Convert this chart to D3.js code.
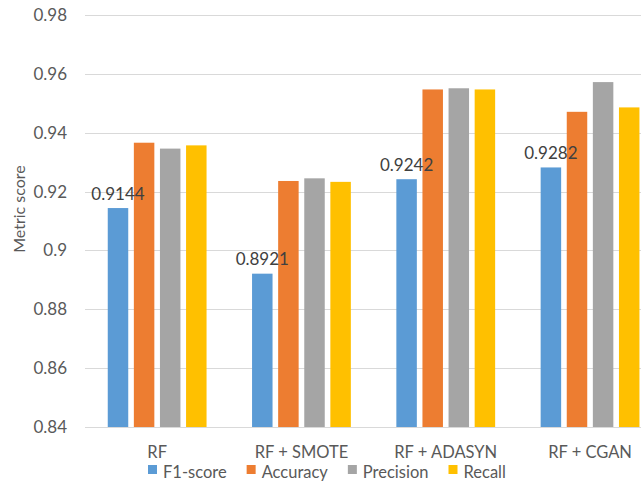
<!DOCTYPE html>
<html>
<head>
<meta charset="utf-8">
<script src="https://cdn.jsdelivr.net/npm/d3@7"></script>
<style>
  html, body { margin: 0; padding: 0; background: #fff; }
  svg { display: block; font-family: Lato, "Open Sans", sans-serif; }
</style>
</head>
<body>
<svg id="chart" width="641" height="494"></svg>
<script>
// Model variants along the x axis
const categories = ["RF", "RF + SMOTE", "RF + ADASYN", "RF + CGAN"];
// Metric series
const seriesNames = ["F1-score", "Accuracy", "Precision", "Recall"];
const seriesColors = ["#5B9BD5", "#ED7D31", "#A5A5A5", "#FFC000"];
const f1Score   = [0.9144, 0.8921, 0.9242, 0.9282];
const accuracy  = [0.9366, 0.9236, 0.9547, 0.9471];
const precision = [0.9346, 0.9245, 0.9551, 0.9572];
const recall    = [0.9357, 0.9233, 0.9547, 0.9486];
// Y axis ticks
const yTicks = [0.84, 0.86, 0.88, 0.9, 0.92, 0.94, 0.96, 0.98];
const yLabel = "Metric score";
// Only the F1-score bars carry value labels
const labelledSeries = "F1-score";

const seriesValues = [f1Score, accuracy, precision, recall];

const svg = d3.select("#chart");

const plot = { left: 85, right: 662.2, top: 15, bottom: 427 };

const x0 = d3.scaleBand()
  .domain(categories)
  .range([plot.left, plot.right])
  .paddingInner(0)
  .paddingOuter(0);

const x1 = d3.scaleBand()
  .domain(seriesNames)
  .range([-49.4, 49.4])
  .paddingInner(0.215)
  .paddingOuter(0);

const y = d3.scaleLinear()
  .domain([0.84, 0.98])
  .range([plot.bottom, plot.top]);

const color = d3.scaleOrdinal().domain(seriesNames).range(seriesColors);

// Horizontal gridlines
svg.append("g")
  .selectAll("line")
  .data(yTicks)
  .join("line")
  .attr("x1", plot.left)
  .attr("x2", plot.right)
  .attr("y1", d => Math.round(y(d)) + 0.5)
  .attr("y2", d => Math.round(y(d)) + 0.5)
  .attr("stroke", "#D9D9D9")
  .attr("stroke-width", 1);

// Y axis tick labels
const yAxis = d3.axisLeft(y)
  .tickValues(yTicks)
  .tickFormat(d => d3.format("")(+d.toFixed(2)))
  .tickSize(0)
  .tickPadding(0);

svg.append("g")
  .attr("transform", `translate(67,0)`)
  .call(yAxis)
  .call(g => g.select(".domain").remove())
  .call(g => g.selectAll("text")
    .attr("fill", "#595959")
    .attr("font-size", 17)
    .attr("font-family", "Lato, 'Open Sans', sans-serif"));

// Y axis title
svg.append("text")
  .attr("transform", `translate(25,209) rotate(-90)`)
  .attr("text-anchor", "middle")
  .attr("fill", "#595959")
  .attr("font-size", 16)
  .text(yLabel);

// Bars
const rows = categories.map((c, i) => ({
  category: c,
  values: seriesNames.map((s, j) => ({ series: s, value: seriesValues[j][i] }))
}));

const groups = svg.append("g")
  .selectAll("g")
  .data(rows)
  .join("g")
  .attr("transform", d => `translate(${x0(d.category) + x0.bandwidth() / 2},0)`);

groups.selectAll("rect")
  .data(d => d.values)
  .join("rect")
  .attr("x", d => x1(d.series))
  .attr("width", x1.bandwidth())
  .attr("y", d => y(d.value))
  .attr("height", d => y(0.84) - y(d.value))
  .attr("fill", d => color(d.series));

// Value labels on F1-score bars
groups.selectAll("text.value")
  .data(d => d.values.filter(v => v.series === labelledSeries))
  .join("text")
  .attr("class", "value")
  .attr("x", d => x1(d.series) + x1.bandwidth() / 2)
  .attr("y", d => y(d.value) - 8.5)
  .attr("text-anchor", "middle")
  .attr("fill", "#404040")
  .attr("font-size", 17)
  .text(d => d3.format(".4f")(d.value));

// Category axis labels
const xAxis = d3.axisBottom(x0).tickSize(0).tickPadding(0);
svg.append("g")
  .attr("transform", `translate(0,446)`)
  .call(xAxis)
  .call(g => g.select(".domain").remove())
  .call(g => g.selectAll("text")
    .attr("fill", "#595959")
    .attr("font-size", 16.5)
    .attr("font-family", "Lato, 'Open Sans', sans-serif"));

// Legend
const legend = svg.append("g").attr("transform", "translate(148,0)");
let lx = 0;
seriesNames.forEach(s => {
  const item = legend.append("g").attr("transform", `translate(${lx},0)`);
  item.append("rect")
    .attr("x", 0).attr("y", 465)
    .attr("width", 9).attr("height", 9)
    .attr("fill", color(s));
  const t = item.append("text")
    .attr("x", 15).attr("y", 477.5)
    .attr("fill", "#595959")
    .attr("font-size", 16.5)
    .text(s);
  lx += 15 + t.node().getComputedTextLength() + 20;
});
</script>
</body>
</html>
